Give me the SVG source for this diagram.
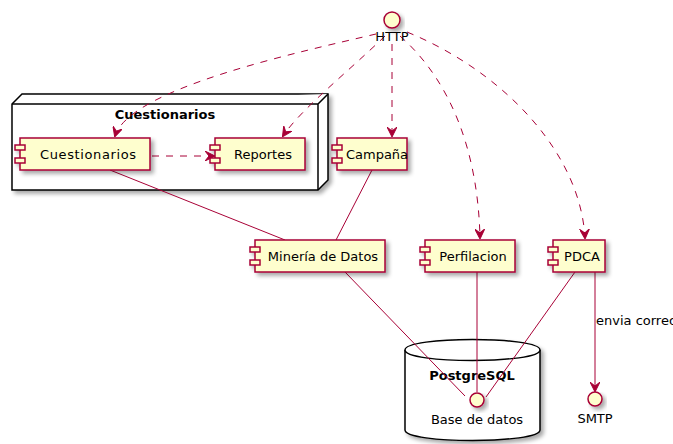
<svg xmlns="http://www.w3.org/2000/svg" width="673" height="444" viewBox="0 0 673 444">
  <defs>
    <filter id="shadow" x="-20%" y="-20%" width="150%" height="160%">
      <feGaussianBlur in="SourceAlpha" stdDeviation="2"/>
      <feOffset dx="3" dy="3" result="b"/>
      <feComponentTransfer><feFuncA type="linear" slope="0.35"/></feComponentTransfer>
      <feMerge><feMergeNode/><feMergeNode in="SourceGraphic"/></feMerge>
    </filter>
    <marker id="arrow" viewBox="0 0 10 10" refX="9" refY="5" markerWidth="10" markerHeight="10" markerUnits="userSpaceOnUse" orient="auto">
      <path d="M0,0 L10,5 L0,10 L4,5 Z" fill="#A80036" stroke="#A80036" stroke-width="1"/>
    </marker>
    <!-- the two small tabs on the left edge of a component -->
    <g id="comp-tabs" fill="#FEFECE" stroke="#A80036" stroke-width="1.5">
      <rect x="-5" y="7" width="10" height="5"/>
      <rect x="-5" y="20" width="10" height="5"/>
    </g>
  </defs>
  <style>
    .comp rect { fill: #FEFECE; stroke: #A80036; stroke-width: 1.5; }
    .label { font-family: "DejaVu Sans", "Liberation Sans", sans-serif; font-size: 13px; fill: #000; }
    .title { font-family: "DejaVu Sans", "Liberation Sans", sans-serif; font-size: 13px; font-weight: bold; fill: #000; }
    .iface circle { fill: #FEFECE; stroke: #A80036; stroke-width: 1.5; }
    .edge { fill: none; stroke: #A80036; stroke-width: 1; }
    .dep { stroke-dasharray: 7,7; }
    .box { fill: #FFFFFF; stroke: #000; stroke-width: 1.5; }
  </style>
  <rect width="673" height="444" fill="#FFFFFF"/>

  <!-- node container -->
  <g id="node-cuestionarios" filter="url(#shadow)">
    <path class="box" d="M12,104 L22,94 L328,94 L328,180 L318,190 L12,190 Z"/>
    <path class="box" d="M12,104 L318,104 L328,94 M318,104 L318,190" fill="none"/>
  </g>
  <text class="title" x="165" y="119" text-anchor="middle">Cuestionarios</text>

  <!-- database container -->
  <g id="db-postgresql" filter="url(#shadow)">
    <path class="box" d="M405,350 C405,336 540,336 540,350 L540,430 C540,444 405,444 405,430 Z"/>
    <path class="box" d="M405,350 C405,364 540,364 540,350" fill="none"/>
  </g>
  <text class="title" x="472" y="380" text-anchor="middle">PostgreSQL</text>

  <!-- connectors -->
  <g id="connectors">
    <path class="edge dep" d="M376,34 C300,52 130,88 115,136" marker-end="url(#arrow)"/>
    <path class="edge dep" d="M385,36 C350,70 300,110 283,136" marker-end="url(#arrow)"/>
    <path class="edge dep" d="M392,44 L392,136" marker-end="url(#arrow)"/>
    <path class="edge dep" d="M400,36 C450,80 478,150 480,238" marker-end="url(#arrow)"/>
    <path class="edge dep" d="M407,32 C500,70 580,150 585,238" marker-end="url(#arrow)"/>
    <path class="edge dep" d="M152,156 L214,156" marker-end="url(#arrow)"/>
    <path class="edge" d="M110,170 L285,240"/>
    <path class="edge" d="M372,170 L336,240"/>
    <path class="edge" d="M345,272 L465,396"/>
    <path class="edge" d="M477,272 L477,392"/>
    <path class="edge" d="M575,272 L486,397"/>
    <path class="edge" d="M595,272 L595,391" marker-end="url(#arrow)"/>
    <text class="label" x="596" y="325" font-size="11">envia correo</text>
  </g>

  <!-- components -->
  <g id="cuestionarios" class="comp" filter="url(#shadow)">
    <rect x="20" y="138" width="130" height="32"/>
    <use href="#comp-tabs" x="20" y="138"/>
  </g>
  <text class="label" x="88" y="159" text-anchor="middle" textLength="96">Cuestionarios</text>

  <g id="reportes" class="comp" filter="url(#shadow)">
    <rect x="215" y="138" width="90" height="32"/>
    <use href="#comp-tabs" x="215" y="138"/>
  </g>
  <text class="label" x="263" y="159" text-anchor="middle">Reportes</text>

  <g id="campana" class="comp" filter="url(#shadow)">
    <rect x="337" y="138" width="70" height="32"/>
    <use href="#comp-tabs" x="337" y="138"/>
  </g>
  <text class="label" x="377" y="159" text-anchor="middle" font-size="12">Campaña</text>

  <g id="mineria" class="comp" filter="url(#shadow)">
    <rect x="255" y="240" width="130" height="32"/>
    <use href="#comp-tabs" x="255" y="240"/>
  </g>
  <text class="label" x="323" y="261" text-anchor="middle">Minería de Datos</text>

  <g id="perfilacion" class="comp" filter="url(#shadow)">
    <rect x="425" y="240" width="90" height="32"/>
    <use href="#comp-tabs" x="425" y="240"/>
  </g>
  <text class="label" x="473" y="261" text-anchor="middle">Perfilacion</text>

  <g id="pdca" class="comp" filter="url(#shadow)">
    <rect x="553" y="240" width="52" height="32"/>
    <use href="#comp-tabs" x="553" y="240"/>
  </g>
  <text class="label" x="582" y="261" text-anchor="middle">PDCA</text>

  <!-- interfaces -->
  <g id="http" class="iface" filter="url(#shadow)">
    <circle cx="392" cy="20" r="8"/>
  </g>
  <text class="label" x="392" y="41" text-anchor="middle">HTTP</text>

  <g id="base-de-datos" class="iface" filter="url(#shadow)">
    <circle cx="477" cy="400" r="7"/>
  </g>
  <text class="label" x="477" y="424" text-anchor="middle">Base de datos</text>

  <g id="smtp" class="iface" filter="url(#shadow)">
    <circle cx="595" cy="399" r="7"/>
  </g>
  <text class="label" x="595" y="423" text-anchor="middle">SMTP</text>
</svg>
